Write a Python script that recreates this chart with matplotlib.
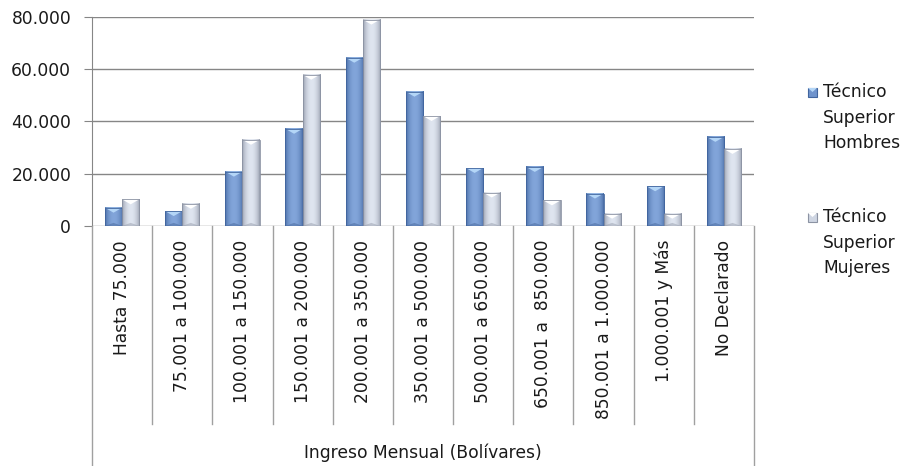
import numpy as np
import matplotlib
matplotlib.use("Agg")
import matplotlib.pyplot as plt
from matplotlib.patches import Polygon, Rectangle
from matplotlib.ticker import FuncFormatter, MultipleLocator
from matplotlib.colors import to_rgb

# datos: ingreso mensual por rango
categorias = ["Hasta 75.000", "75.001 a 100.000", "100.001 a 150.000",
              "150.001 a 200.000", "200.001 a 350.000", "350.001 a 500.000",
              "500.001 a 650.000", "650.001 a  850.000", "850.001 a 1.000.000",
              "1.000.001 y Más", "No Declarado"]
hombres = [7000, 5700, 20800, 37200, 64400, 51400, 22200, 22600, 12400, 15200, 34100]
mujeres = [10200, 8500, 33000, 57900, 79000, 42100, 12800, 9800, 4700, 4700, 29500]
serie_h = "Técnico\nSuperior\nHombres"
serie_m = "Técnico\nSuperior\nMujeres"
titulo_x = "Ingreso Mensual (Bolívares)"

W, H = 903, 466
fig = plt.figure(figsize=(W / 100, H / 100), dpi=100)
plt.rcParams['font.family'] = ['DejaVu Sans']
FS = 12.3

# area de trazado en pixeles
x0, x1 = 92, 754
y_top, y_zero = 17, 226
ax = fig.add_axes([x0 / W, 1 - y_zero / H, (x1 - x0) / W, (y_zero - y_top) / H])

n = len(categorias)
ax.set_xlim(-0.5, n - 0.5)
ax.set_ylim(0, 80000)
ax.yaxis.set_major_locator(MultipleLocator(20000))
ax.yaxis.set_major_formatter(FuncFormatter(lambda v, p: f"{int(v):,}".replace(",", ".")))
ax.tick_params(axis='y', length=6, color='#868686', labelsize=FS, pad=9, labelcolor='#1a1a1a')
ax.set_xticks([])
ax.grid(axis='y', color='#868686', linewidth=1)
ax.set_axisbelow(True)
for s in ['top', 'right', 'bottom']:
    ax.spines[s].set_visible(False)
ax.spines['left'].set_color('#868686')

ancho = 0.285
xs = np.arange(n)
b_h = ax.bar(xs - ancho / 2, hombres, ancho, color='#5b7fba', zorder=2)
b_m = ax.bar(xs + ancho / 2, mujeres, ancho, color='#c3cad8', zorder=2)

# sombreado tipo bisel
def degradado(patch, borde, centro, tapa, base):
    x, y = patch.get_xy()
    w, h = patch.get_width(), patch.get_height()
    t = np.linspace(0, 1, 64)
    perfil = np.sin(np.pi * t) ** 0.6
    c0, c1 = np.array(to_rgb(borde)), np.array(to_rgb(centro))
    img = c0[None, :] + (c1 - c0)[None, :] * perfil[:, None]
    img = np.repeat(img[None, :, :], 4, axis=0)
    ax.imshow(img, extent=[x, x + w, y, y + h], aspect='auto',
              interpolation='bilinear', zorder=3)
    d = min(1900, h * 0.5)
    ax.add_patch(Polygon([(x, y + h), (x + w, y + h), (x + w / 2, y + h - d)],
                         closed=True, facecolor=tapa, edgecolor='none', zorder=4))
    ax.add_patch(Polygon([(x, y), (x + w, y), (x + w / 2, y + min(1200, h * 0.3))],
                         closed=True, facecolor=base, edgecolor='none', alpha=0.35, zorder=4))
    ax.add_patch(Rectangle((x, y), w, h, facecolor='none', edgecolor=borde,
                           linewidth=0.6, zorder=5))

for p in b_h:
    degradado(p, '#41659e', '#82a5da', '#b4d6f7', '#2f4d80')
for p in b_m:
    degradado(p, '#8c93a3', '#dfe5f0', '#ffffff', '#7a8190')

ax.set_xlim(-0.5, n - 0.5)
ax.set_ylim(0, 80000)

# tabla de categorias bajo el eje
gris = '#a0a0a0'
fx = lambda px: px / W
fy = lambda py: 1 - py / H
paso = (x1 - x0) / n
for i in range(n + 1):
    xp = x0 + i * paso
    fin = 466 if i in (0, n) else 424
    fig.add_artist(plt.Line2D([fx(xp), fx(xp)], [fy(y_zero), fy(fin)], color=gris, linewidth=1))
for i, c in enumerate(categorias):
    fig.text(fx(x0 + (i + 0.5) * paso), fy(240), c, rotation=90, ha='center', va='top',
             fontsize=FS, color='#1a1a1a')
fig.text(fx((x0 + x1) / 2), fy(453), titulo_x, ha='center', va='center', fontsize=FS, color='#1a1a1a')

# leyenda
def marca(xp, yp, borde, centro, tapa):
    r = Rectangle((fx(xp), fy(yp + 9)), 9 / W, 9 / H, transform=fig.transFigure,
                  facecolor=centro, edgecolor=borde, linewidth=0.8)
    fig.add_artist(r)
    fig.add_artist(Polygon([(fx(xp), fy(yp)), (fx(xp + 9), fy(yp)), (fx(xp + 4.5), fy(yp + 4))],
                           closed=True, transform=fig.transFigure, facecolor=tapa, edgecolor='none'))

marca(808, 88, '#41659e', '#6f93cc', '#b4d6f7')
fig.text(fx(823), fy(83), serie_h, ha='left', va='top', fontsize=FS, linespacing=1.55, color='#1a1a1a')
marca(808, 213, '#8c93a3', '#cfd6e3', '#ffffff')
fig.text(fx(823), fy(208), serie_m, ha='left', va='top', fontsize=FS, linespacing=1.55, color='#1a1a1a')

fig.savefig("out.png", dpi=100)
